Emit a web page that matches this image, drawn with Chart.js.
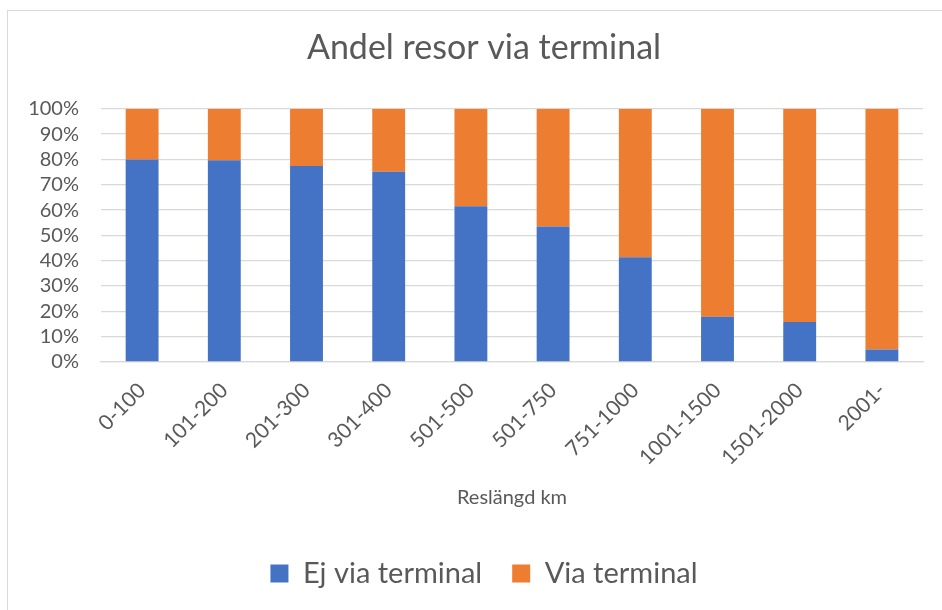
<!DOCTYPE html>
<html>
<head>
<meta charset="utf-8">
<script src="https://cdn.jsdelivr.net/npm/chart.js@4"></script>
<style>
  body { margin: 0; background: #fff; }
  #wrap { position: relative; width: 942px; height: 610px; overflow: hidden; }
  #frame { position: absolute; left: 7px; top: 10px; width: 960px; height: 620px;
           border-left: 1.5px solid #d9d9d9; border-top: 1.5px solid #d9d9d9; }
  canvas { position: absolute; left: 0; top: 0; }
</style>
</head>
<body>
<div id="wrap">
  <div id="frame"></div>
  <canvas id="myChart" width="942" height="610"></canvas>
</div>
<script>
'use strict';

const categories = ['0-100', '101-200', '201-300', '301-400', '501-500', '501-750',
  '751-1000', '1001-1500', '1501-2000', '2001-'];
const ejViaTerminal = [80, 79.7, 77.4, 75.1, 61.5, 53.5, 41.4, 17.9, 15.8, 4.9];
const viaTerminal = [20, 20.3, 22.6, 24.9, 38.5, 46.5, 58.6, 82.1, 84.2, 95.1];
const yTicks = [0, 10, 20, 30, 40, 50, 60, 70, 80, 90, 100];

const grey = '#595959';
const font = 'Lato';

const ctx = document.getElementById('myChart').getContext('2d');

const myChart = new Chart(ctx, {
  type: 'bar',
  data: {
    labels: categories,
    datasets: [{
      label: 'Ej via terminal',
      data: ejViaTerminal,
      backgroundColor: '#4472C4',
      borderWidth: 0,
      categoryPercentage: 1,
      barPercentage: 0.4
    }, {
      label: 'Via terminal',
      data: viaTerminal,
      backgroundColor: '#ED7D31',
      borderWidth: 0,
      categoryPercentage: 1,
      barPercentage: 0.4
    }]
  },
  options: {
    responsive: false,
    animation: false,
    layout: { padding: { left: 26, right: 0, top: 28, bottom: 12 } },
    scales: {
      x: {
        stacked: true,
        grid: { display: false },
        border: { color: '#d9d9d9', width: 1.3 },
        ticks: { color: grey, font: { family: font, size: 21 }, maxRotation: 45, minRotation: 45, padding: 8 },
        title: {
          display: true,
          text: 'Reslängd km',
          color: grey,
          font: { family: font, size: 20 },
          padding: { top: 0, bottom: 19 }
        },
        afterFit: s => { s.height = 167; }
      },
      y: {
        stacked: true,
        min: 0,
        max: 100,
        afterBuildTicks: s => { s.ticks = yTicks.map(v => ({ value: v })); },
        grid: { color: '#d9d9d9', lineWidth: 1.3, drawTicks: false },
        border: { display: false },
        ticks: { color: grey, font: { family: font, size: 20 }, padding: 22, autoSkip: false,
          callback: v => v + '%' },
        afterFit: s => { s.width = 75; }
      },
      y2: {
        position: 'right',
        display: true,
        grid: { display: false },
        border: { display: false },
        ticks: { display: false },
        afterFit: s => { s.width = 19; }
      }
    },
    plugins: {
      title: {
        display: true,
        text: 'Andel resor via terminal',
        color: grey,
        font: { family: font, size: 34, weight: 'normal' },
        padding: { top: 0, bottom: 40 }
      },
      legend: {
        position: 'bottom',
        labels: { color: grey, font: { family: font, size: 29 }, boxWidth: 18, boxHeight: 18, padding: 30 }
      },
      tooltip: { enabled: false }
    }
  }
});
</script>
</body>
</html>
